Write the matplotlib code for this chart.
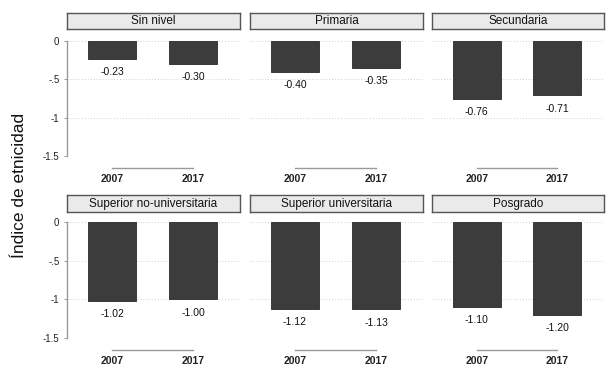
import matplotlib
matplotlib.use("Agg")
import matplotlib.pyplot as plt

plt.rcParams['font.family'] = ['Liberation Sans', 'DejaVu Sans']

panels = ["Sin nivel", "Primaria", "Secundaria",
          "Superior no-universitaria", "Superior universitaria", "Posgrado"]
years = ["2007", "2017"]
v2007 = [-0.23, -0.40, -0.76, -1.02, -1.12, -1.10]
v2017 = [-0.30, -0.35, -0.71, -1.00, -1.13, -1.20]
yticks = [0, -0.5, -1, -1.5]
yticklabels = ["0", "-.5", "-1", "-1.5"]
ylabel = "Índice de etnicidad"

W, H = 613, 370
fig = plt.figure(figsize=(W / 100, H / 100), dpi=100)

lefts = [67, 250, 432]
widths = [173, 173, 172]
rows = [(41, 156, 13, 29), (222, 338, 195, 212)]

bar_color = "#3c3c3c"
for i, name in enumerate(panels):
    r, c = divmod(i, 3)
    top, bot, st, sb = rows[r]
    x0, w = lefts[c], widths[c]
    ax = fig.add_axes([x0 / W, 1 - bot / H, w / W, (bot - top) / H])
    for s in ["top", "right"]:
        ax.spines[s].set_visible(False)
    ax.spines["bottom"].set_position(("outward", 8.6))
    ax.spines["bottom"].set_bounds(0, 1)
    ax.spines["bottom"].set_color("#999999")
    ax.spines["bottom"].set_linewidth(1.0)

    vals = [v2007[i], v2017[i]]
    xs = [0, 1]
    ax.bar(xs, vals, width=0.6, color=bar_color, edgecolor="#2a2a2a", linewidth=0.6, zorder=3)
    for x, v in zip(xs, vals):
        ax.annotate(f"{v:.2f}", (x, v), xytext=(0, -9.5), textcoords="offset points",
                    ha="center", va="center", fontsize=7.5, color="#111111")
    ax.set_xlim(-0.555, 1.58)
    ax.set_ylim(-1.5, 0)
    ax.set_yticks(yticks)
    for y in yticks:
        ax.axhline(y, color="#cfcfcf", linewidth=0.7, linestyle=(0, (1, 2)), zorder=1)
    ax.set_xticks(xs)
    ax.set_xticklabels(years, fontsize=7.5, fontweight="bold", color="#222222")
    ax.tick_params(axis="x", length=0, pad=4)
    if c == 0:
        ax.set_yticklabels(yticklabels, fontsize=7, color="#222222")
        ax.tick_params(axis="y", length=2.5, width=0.6, color="#888888", pad=3)
        ax.spines["left"].set_color("#999999")
        ax.spines["left"].set_linewidth(1.0)
    else:
        ax.spines["left"].set_visible(False)
        ax.tick_params(axis="y", length=0, labelleft=False)
    ax.set_facecolor("white")

    sax = fig.add_axes([x0 / W, 1 - sb / H, w / W, (sb - st) / H])
    sax.set_facecolor("#eaeaea")
    sax.set_xticks([])
    sax.set_yticks([])
    for s in sax.spines.values():
        s.set_color("#555555")
        s.set_linewidth(1.0)
    sax.text(0.5, 0.5, name, ha="center", va="center", fontsize=8.5, color="#111111",
             transform=sax.transAxes)

fig.text(20 / W, 0.5, ylabel, rotation=90, ha="center", va="center", fontsize=12.5, color="#111111")

fig.savefig("out.png", dpi=100)
